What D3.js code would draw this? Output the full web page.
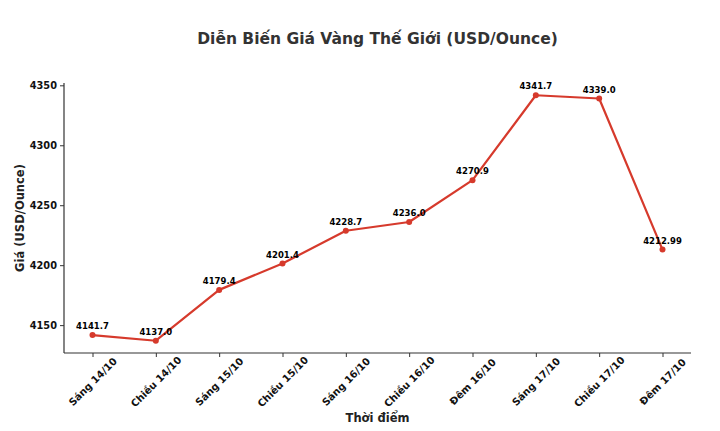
<!DOCTYPE html>
<html><head><meta charset="utf-8">
<script src="https://cdn.jsdelivr.net/npm/d3@7/dist/d3.min.js"></script>
<style>body{margin:0;background:#fff}svg{display:block}text{font-family:"DejaVu Sans",sans-serif}</style>
</head><body><svg id="c" width="720" height="431"></svg>
<script>
const categories = ["Sáng 14/10","Chiều 14/10","Sáng 15/10","Chiều 15/10","Sáng 16/10","Chiều 16/10","Đêm 16/10","Sáng 17/10","Chiều 17/10","Đêm 17/10"];
const values = [4141.7,4137.0,4179.4,4201.4,4228.7,4236.0,4270.9,4341.7,4339.0,4212.99];
const labels = ["4141.7","4137.0","4179.4","4201.4","4228.7","4236.0","4270.9","4341.7","4339.0","4212.99"];
const yTicks = [4150,4200,4250,4300,4350];

const svg = d3.select("#c");
const L=64,R=691,T=83,B=353;
const x = d3.scalePoint().domain(categories).range([L,R]).padding(0.45);
const vmin=d3.min(values), vmax=d3.max(values), m=(vmax-vmin)*0.05;
const y = d3.scaleLinear().domain([vmin-m, vmax+m]).range([B,T]);

const col="#333";
const gx = svg.append("g").attr("transform",`translate(0,${B})`)
  .call(d3.axisBottom(x).tickSize(4).tickPadding(3).tickSizeOuter(0));
gx.select(".domain").attr("d",`M${L},0H${R}`).attr("stroke",col).attr("stroke-width",1.2);
gx.selectAll(".tick line").attr("stroke",col);
gx.selectAll(".tick text").attr("fill","#111").attr("font-size",10).attr("font-weight","bold")
  .attr("text-anchor","middle").attr("y",0).attr("dy","0.32em").attr("transform","translate(0,29) rotate(-45)");

const gy = svg.append("g").attr("transform",`translate(${L},0)`)
  .call(d3.axisLeft(y).tickValues(yTicks).tickFormat(d3.format("d")).tickSize(4).tickPadding(3).tickSizeOuter(0));
gy.select(".domain").attr("d",`M0,${B}V${T}`).attr("stroke",col).attr("stroke-width",1.2);
gy.selectAll(".tick line").attr("stroke",col);
gy.selectAll(".tick text").attr("fill","#111").attr("font-size",9.8).attr("font-weight","bold");

const line = d3.line().x((d,i)=>x(categories[i])).y(d=>y(d));
svg.append("path").datum(values).attr("d",line).attr("fill","none")
  .attr("stroke","#d63a2c").attr("stroke-width",2.2).attr("stroke-linejoin","round");
svg.selectAll("circle.p").data(values).enter().append("circle")
  .attr("cx",(d,i)=>x(categories[i])).attr("cy",d=>y(d)).attr("r",3).attr("fill","#d63a2c");
svg.selectAll("text.lab").data(values).enter().append("text")
  .attr("x",(d,i)=>x(categories[i])).attr("y",d=>y(d)-6).attr("text-anchor","middle")
  .attr("font-size",8.5).attr("font-weight","bold").attr("fill","#000").text((d,i)=>labels[i]);

svg.append("text").attr("x",(L+R)/2).attr("y",44).attr("text-anchor","middle")
  .attr("font-size",15.5).attr("font-weight","bold").attr("fill","#333").text("Diễn Biến Giá Vàng Thế Giới (USD/Ounce)");
svg.append("text").attr("x",(L+R)/2).attr("y",422).attr("text-anchor","middle")
  .attr("font-size",11.5).attr("font-weight","bold").attr("fill","#222").text("Thời điểm");
svg.append("text").attr("transform",`translate(24,${(T+B)/2}) rotate(-90)`).attr("text-anchor","middle")
  .attr("font-size",11.5).attr("font-weight","bold").attr("fill","#222").text("Giá (USD/Ounce)");
</script></body></html>
